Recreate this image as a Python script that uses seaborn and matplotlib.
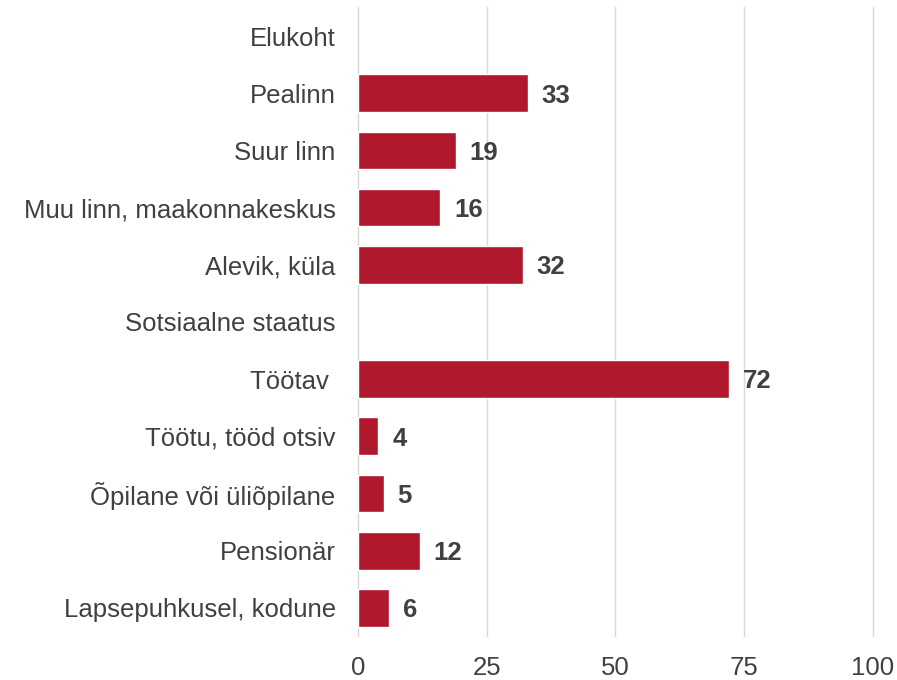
import matplotlib
matplotlib.use('Agg')
import matplotlib.pyplot as plt
import numpy as np
import pandas as pd
import seaborn as sns

categories = ['Elukoht', 'Pealinn', 'Suur linn', 'Muu linn, maakonnakeskus', 'Alevik, küla',
              'Sotsiaalne staatus', 'Töötav ', 'Töötu, tööd otsiv', 'Õpilane või üliõpilane',
              'Pensionär', 'Lapsepuhkusel, kodune']
values = [np.nan, 33, 19, 16, 32, np.nan, 72, 4, 5, 12, 6]
xticks = [0, 25, 50, 75, 100]

sns.set_style('white')
plt.rcParams['font.family'] = ['Liberation Sans', 'DejaVu Sans']

df = pd.DataFrame({'kat': categories, 'val': values})

fig = plt.figure(figsize=(8.97, 6.8), dpi=100)
ax = fig.add_axes([0.399, 0.064, 0.574, 0.925])

sns.barplot(data=df, x='val', y='kat', orient='h', color='#B0182D', saturation=1,
            width=0.66, ax=ax, order=categories)

# väärtuste sildid
for i, v in enumerate(values):
    if not np.isnan(v):
        ax.text(v + 2.7, i + 0.04, f'{v:.0f}', va='center', ha='left', fontsize=18.5,
                fontweight='bold', color='#404040')

ax.set_xlim(0, 100)
ax.set_ylim(len(categories) - 0.5, -0.5)
ax.set_xticks(xticks)
ax.set_xlabel('')
ax.set_ylabel('')
ax.grid(axis='x', color='#d9d9d9', linewidth=1)
for line in ax.get_xgridlines():
    line.set_clip_on(False)
ax.set_axisbelow(True)
for s in ax.spines.values():
    s.set_visible(False)
ax.tick_params(axis='y', length=0, pad=16, labelsize=18.5, labelcolor='#404040')
ax.tick_params(axis='x', length=0, pad=14, labelsize=18.5, labelcolor='#404040')

fig.savefig('out.png', dpi=100)
